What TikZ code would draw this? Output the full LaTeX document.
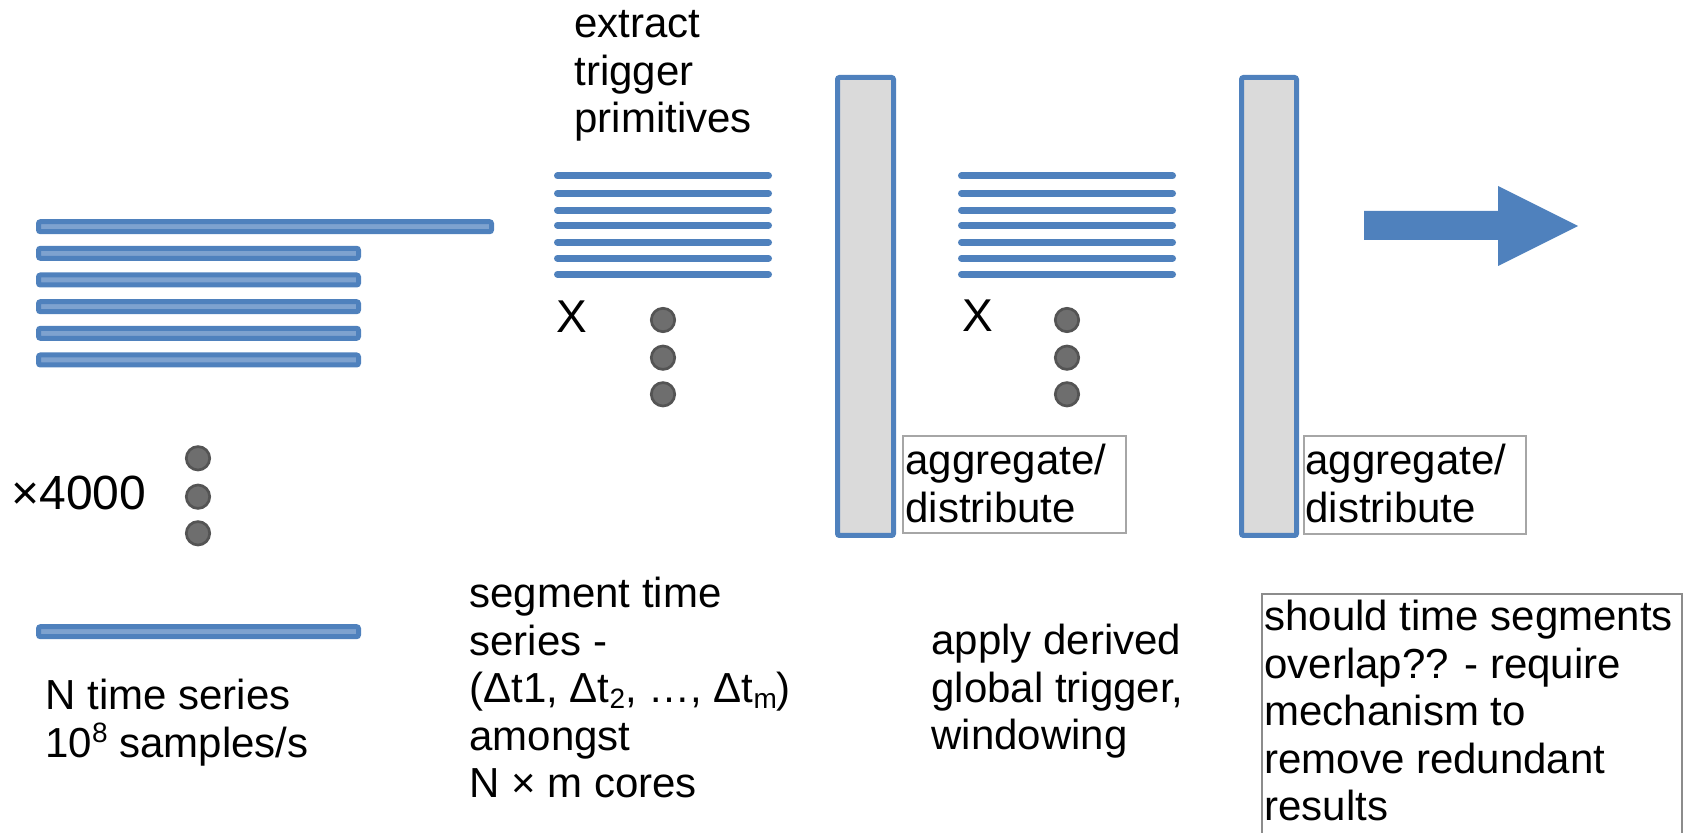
\documentclass[tikz,border=0pt]{standalone}
\usepackage{fontspec}
\setmainfont{Liberation Sans}
\definecolor{bblue}{HTML}{4F81BD}
\definecolor{lblue}{HTML}{7EA2CF}
\definecolor{barfill}{HTML}{DADADA}
\definecolor{dotfill}{HTML}{6E6E6E}
\definecolor{dotline}{HTML}{545454}
\definecolor{boxline}{HTML}{A6A6A6}
\definecolor{boxlinedark}{HTML}{8C8C8C}
\newcommand\mlines[1]{\vtop{\baselineskip=23.75pt\lineskiplimit=-100pt\lineskip=0pt\halign{##\hfil\cr#1\crcr}}}
\newcommand\sbs[1]{\raisebox{-0.12em}{\fontsize{14pt}{14pt}\selectfont #1}}
\newcommand\sps[1]{\raisebox{0.36em}{\fontsize{14pt}{14pt}\selectfont #1}}
\begin{document}
\begin{tikzpicture}[x=0.5pt,y=-0.5pt,
  txt/.style={inner sep=0pt,anchor=base west,font=\fontsize{21pt}{23.75pt}\selectfont},
  bigtxt/.style={inner sep=0pt,anchor=base west,font=\fontsize{23pt}{26pt}\selectfont},
  seriesbar/.style={draw=bblue,fill=lblue,line width=2.5pt,rounded corners=1pt},
  tpline/.style={draw=bblue,line width=3.5pt,line cap=round},
  dotmark/.style={circle,draw=dotline,fill=dotfill,line width=1.35pt,minimum size=11.7pt,inner sep=0pt},
  grayslab/.style={draw=bblue,fill=barfill,line width=2.5pt,rounded corners=1pt},
  labelbox/.style={draw=boxline,line width=1pt},
]
\path[use as bounding box] (0,0) rectangle (1693,833);
\clip (0,0) rectangle (1693,833);

% input time series
\draw[seriesbar] (38.5,221.7) rectangle (491.5,231.7);
\foreach \yy in {253.3,280,306.7,333.3,360,631.7}
  \draw[seriesbar] (38.5,\yy-5) rectangle (358.5,\yy+5);
\node[dotmark] (ld1) at (198,458.3) {};
\node[dotmark] (ld2) at (198,496.7) {};
\node[dotmark] (ld3) at (198,533.3) {};
\node[bigtxt,font=\fontsize{24pt}{27pt}\selectfont] (times) at (11,510) {×4000};
\node[txt] (nts) at (45,710) {\mlines{N time series\cr 10\sps{8} samples/s}};

% segmenting stage
\node[txt] (extract) at (574,38) {\mlines{extract\cr trigger\cr primitives}};
\foreach \yy in {176,193.3,210.3,225.3,242.3,258.3,274.3}
  \draw[tpline] (557.5,\yy) -- (768.5,\yy);
\node[bigtxt] (x1) at (556,333) {X};
\node[dotmark] (md1) at (663,320) {};
\node[dotmark] (md2) at (663,357.7) {};
\node[dotmark] (md3) at (663,394.3) {};
\node[txt] (segment) at (469,608) {\mlines{segment time\cr series -\cr (Δt1, Δt\sbs{2}, …, Δt\sbs{m})\cr amongst\cr N × m cores}};

% first aggregation slab
\draw[grayslab] (837.5,77.5) rectangle (893.5,535.5);
\draw[labelbox] (903,436) rectangle (1126,533);
\node[txt] (agg1) at (905,475) {\mlines{aggregate/\cr distribute}};

% trigger stage
\foreach \yy in {176,193.3,210.3,225.3,242.3,258.3,274.3}
  \draw[tpline] (961.5,\yy) -- (1172.5,\yy);
\node[bigtxt] (x2) at (962,332) {X};
\node[dotmark] (rd1) at (1067,320) {};
\node[dotmark] (rd2) at (1067,357.7) {};
\node[dotmark] (rd3) at (1067,394.3) {};
\node[txt] (apply) at (931,655) {\mlines{apply derived\cr global trigger,\cr windowing}};

% second aggregation slab
\draw[grayslab] (1241.5,77.5) rectangle (1296.5,535.5);
\draw[labelbox] (1304,436) rectangle (1526,534);
\node[txt] (agg2) at (1305,475) {\mlines{aggregate/\cr distribute}};

% output arrow
\fill[bblue] (1364,211) -- (1498,211) -- (1498,186) -- (1578,226) -- (1498,266) -- (1498,240) -- (1364,240) -- cycle;

% note box
\draw[draw=boxlinedark,line width=1pt] (1262,860) -- (1262,594) -- (1682,594) -- (1682,860);
\node[txt] (note) at (1264,631) {\mlines{should time segments\cr overlap?? - require\cr mechanism to\cr remove redundant\cr results}};
\end{tikzpicture}
\end{document}
